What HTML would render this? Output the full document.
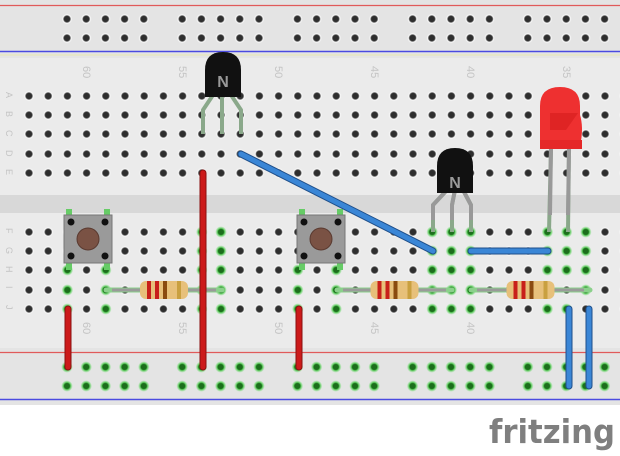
<!DOCTYPE html>
<html><head><style>
html,body{margin:0;padding:0;background:#fff;width:620px;height:456px;overflow:hidden}
svg{display:block}
</style></head><body>
<svg id="s" width="620" height="456" xmlns="http://www.w3.org/2000/svg">
<defs>
<radialGradient id="gh"><stop offset="0.5" stop-color="#2e2e2e"/><stop offset="0.62" stop-color="#777"/><stop offset="0.75" stop-color="#fafafa"/><stop offset="1" stop-color="#f0f0f0" stop-opacity="0"/></radialGradient>
<radialGradient id="gg"><stop offset="0.48" stop-color="#1c6e1c"/><stop offset="0.62" stop-color="#4cc04c"/><stop offset="1" stop-color="#9be69b" stop-opacity="0.3"/></radialGradient>
</defs>
<rect x="0" y="0" width="620" height="405" fill="#e4e4e4"/>
<rect x="0" y="58" width="620" height="290" fill="#ebebeb"/>
<rect x="0" y="195" width="620" height="18" fill="#d8d8d8"/>
<line x1="0" y1="5.5" x2="620" y2="5.5" stroke="#e05a5a" stroke-width="1.2"/>
<line x1="0" y1="51.5" x2="620" y2="51.5" stroke="#4a4ae0" stroke-width="1.5"/>
<line x1="0" y1="55" x2="620" y2="55" stroke="#e8e8b0" stroke-width="1"/>
<line x1="0" y1="352.5" x2="620" y2="352.5" stroke="#e05a5a" stroke-width="1.2"/>
<line x1="0" y1="399.5" x2="620" y2="399.5" stroke="#4a4ae0" stroke-width="1.5"/>
<g id="holes"></g>
<g font-family="Liberation Sans, sans-serif" font-size="11" fill="#c4c4c4" id="labels"></g>
<g stroke="#8aa88a" stroke-width="4" fill="none" stroke-linejoin="round">
<polyline points="213,95 203,110 203,134"/>
<polyline points="222,95 222,134"/>
<polyline points="231,95 241,110 241,134"/>
<polyline points="447,190 433,205 433,232"/>
<polyline points="455,190 452,205 452,232"/>
<polyline points="463,190 471,205 471,232"/>
<line x1="551" y1="148" x2="549" y2="232"/>
<line x1="569" y1="148" x2="568" y2="232"/>
</g>
<g stroke="#999" stroke-width="4" fill="none">
<line x1="551" y1="148" x2="550" y2="215"/>
<line x1="569" y1="148" x2="568" y2="215"/>
<polyline points="447,190 433,205 433,220"/>
<polyline points="455,190 452,205 452,220"/>
<polyline points="463,190 471,205 471,220"/>
</g>
<path d="M205,97 L205,70 Q205,52 223,52 Q241,52 241,70 L241,97 Z" fill="#111"/>
<text x="223" y="87" font-family="Liberation Sans,sans-serif" font-weight="bold" font-size="16" fill="#999" text-anchor="middle">N</text>
<path d="M437,193 L437,166 Q437,148 455,148 Q473,148 473,166 L473,193 Z" fill="#111"/>
<text x="455" y="188" font-family="Liberation Sans,sans-serif" font-weight="bold" font-size="16" fill="#999" text-anchor="middle">N</text>
<path d="M540,146 L540,106 Q540,87 560,87 Q580,87 580,106 L580,115 Q584,128 580,146 Z" fill="#ee3030"/>
<rect x="540" y="140" width="42" height="9" fill="#e52828"/>
<path d="M550,113 L578,113 L566,130 L550,130 Z" fill="#d82020" opacity="0.7"/>
<g id="btns"></g>
<g id="res"></g>
<g stroke-linecap="round" fill="none">
<line x1="203" y1="173" x2="203" y2="367" stroke="#8a1010" stroke-width="7"/>
<line x1="203" y1="173" x2="203" y2="367" stroke="#cc1a1a" stroke-width="5"/>
<line x1="68" y1="309" x2="68" y2="367" stroke="#8a1010" stroke-width="7"/>
<line x1="68" y1="309" x2="68" y2="367" stroke="#cc1a1a" stroke-width="5"/>
<line x1="299" y1="309" x2="299" y2="367" stroke="#8a1010" stroke-width="7"/>
<line x1="299" y1="309" x2="299" y2="367" stroke="#cc1a1a" stroke-width="5"/>
<line x1="241" y1="154" x2="433" y2="251" stroke="#1f4f8a" stroke-width="7"/>
<line x1="241" y1="154" x2="433" y2="251" stroke="#3a86d6" stroke-width="5"/>
<line x1="471" y1="251" x2="548" y2="251" stroke="#1f4f8a" stroke-width="7"/>
<line x1="471" y1="251" x2="548" y2="251" stroke="#3a86d6" stroke-width="5"/>
<line x1="569" y1="309" x2="569" y2="386" stroke="#1f4f8a" stroke-width="7"/>
<line x1="569" y1="309" x2="569" y2="386" stroke="#3a86d6" stroke-width="5"/>
<line x1="589" y1="309" x2="589" y2="386" stroke="#1f4f8a" stroke-width="7"/>
<line x1="589" y1="309" x2="589" y2="386" stroke="#3a86d6" stroke-width="5"/>
</g>
<text x="489" y="443" font-family="DejaVu Sans, Liberation Sans, sans-serif" font-weight="bold" font-size="33" fill="#7f7f7f" textLength="126" lengthAdjust="spacingAndGlyphs">fritzing</text>
</svg>
<script>
var NS="http://www.w3.org/2000/svg";
function el(t,a,p){var e=document.createElementNS(NS,t);for(var k in a)e.setAttribute(k,a[k]);(p||document.getElementById('s')).appendChild(e);return e;}
var H=document.getElementById('holes');
var P=19.2;
function cx(i){return 29+i*P;}
var rowsU=[96,115,134,154,173], rowsL=[232,251,270,290,309];
var green={};
function g(x,y){green[Math.round(x)+","+y]=1;}
[[203,[96,134,154,173]],[222,[134,154,173]],[241,[96,134,154,173]]].forEach(function(c){c[1].forEach(function(y){g(c[0],y);});});
function gl(i,rows){rows.forEach(function(r){g(cx(i),rowsL[r]);});}
gl(2,[2,3,4]);gl(4,[2,3,4]);gl(9,[0,1,2,3,4]);gl(10,[0,1,2,3,4]);gl(14,[2,3,4]);gl(16,[2,3,4]);
gl(21,[0,1,2,3,4]);gl(22,[0,1,2,3,4]);gl(23,[0,1,2,3,4]);gl(27,[0,1,2,4]);gl(28,[0,1,2,4]);gl(29,[0,1,2,3]);
for(var i=0;i<32;i++){var x=cx(i);
 rowsU.concat(rowsL).forEach(function(y){
  var k=Math.round(x)+","+y;
  el('circle',{cx:x,cy:y,r:green[k]?5.5:5.5,fill:green[k]?'url(#gg)':'url(#gh)'},H);
 });}
for(var gi=0;gi<5;gi++)for(var j=0;j<5;j++){var x=67+gi*115.2+j*P;
 [19,38].forEach(function(y){el('circle',{cx:x,cy:y,r:5.5,fill:'url(#gh)'},H);});
 [367,386].forEach(function(y){el('circle',{cx:x,cy:y,r:5.5,fill:'url(#gg)'},H);});}
var L=document.getElementById('labels');
[[87,60],[183,55],[279,50],[375,45],[471,40],[567,35]].forEach(function(a){
 var t=el('text',{x:0,y:0,transform:'translate('+(a[0]-4)+',66) rotate(90)'},L);t.textContent=a[1];
 if(a[1]!=35){var t2=el('text',{x:0,y:0,transform:'translate('+(a[0]-4)+',322) rotate(90)'},L);t2.textContent=a[1];}
});
"ABCDE".split("").forEach(function(c,i){var t=el('text',{x:0,y:0,transform:'translate(6,'+(rowsU[i]-4)+') rotate(90)','font-size':9},L);t.textContent=c;});
"FGHIJ".split("").forEach(function(c,i){var t=el('text',{x:0,y:0,transform:'translate(6,'+(rowsL[i]-4)+') rotate(90)','font-size':9},L);t.textContent=c;});
var B=document.getElementById('btns');
[[64],[297]].forEach(function(b){var x=b[0];
 el('rect',{x:x+2,y:209,width:6,height:8,fill:'#6c6'},B);el('rect',{x:x+40,y:209,width:6,height:8,fill:'#6c6'},B);
 el('rect',{x:x+2,y:262,width:6,height:8,fill:'#6c6'},B);el('rect',{x:x+40,y:262,width:6,height:8,fill:'#6c6'},B);
 el('rect',{x:x,y:215,width:48,height:48,fill:'#9a9a9a',stroke:'#777'},B);
 [[x+7,222],[x+41,222],[x+7,256],[x+41,256]].forEach(function(p){el('circle',{cx:p[0],cy:p[1],r:3.5,fill:'#111'},B);});
 el('circle',{cx:x+24,cy:239,r:11,fill:'#7a5244',stroke:'#5a3a30'},B);
});
var R=document.getElementById('res');
[[106,222],[337,452],[471,590]].forEach(function(r){
 el('line',{x1:r[0],y1:290,x2:r[1],y2:290,stroke:'#8bd08b','stroke-width':5,'stroke-linecap':'round'},R);
 el('line',{x1:r[0]+6,y1:290,x2:r[1]-6,y2:290,stroke:'#9a9a9a','stroke-width':3},R);
 var m=(r[0]+r[1])/2;
 el('rect',{x:m-24,y:281,width:48,height:18,rx:6,fill:'#e7c07a'},R);
 [[-17,'#c8201a'],[-9,'#c8201a'],[-1,'#8a4a10'],[13,'#c9a040']].forEach(function(b){el('rect',{x:m+b[0],y:281,width:4,height:18,fill:b[1]},R);});
});
</script>
</body></html>
